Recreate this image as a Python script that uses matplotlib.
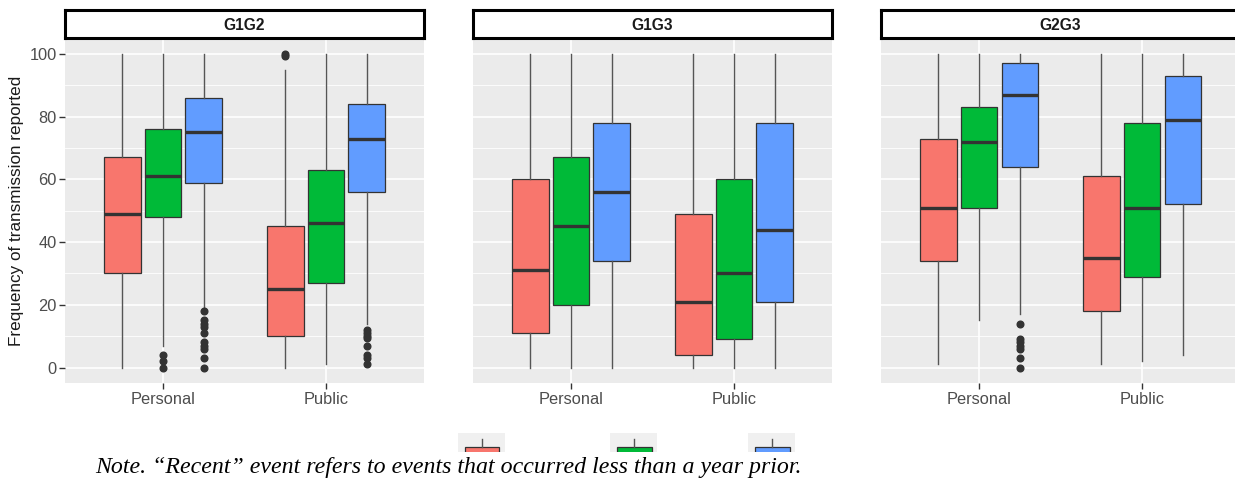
import matplotlib
matplotlib.use("Agg")
import matplotlib.pyplot as plt
from matplotlib.patches import Rectangle

# ---------------- data ----------------
panels = ["G1G2", "G1G3", "G2G3"]
contexts = ["Personal", "Public"]
fill_colors = ["#F8766D", "#00BA38", "#619CFF"]

# values indexed [panel][context][group]
q1 = [[[30, 48, 59], [10, 27, 56]],
      [[11, 20, 34], [4, 9, 21]],
      [[34, 51, 64], [18, 29, 52]]]
med = [[[49, 61, 75], [25, 46, 73]],
       [[31, 45, 56], [21, 30, 44]],
       [[51, 72, 87], [35, 51, 79]]]
q3 = [[[67, 76, 86], [45, 63, 84]],
      [[60, 67, 78], [49, 60, 78]],
      [[73, 83, 97], [61, 78, 93]]]
whis_lo = [[[0, 7, 19], [0, 1, 14]],
           [[0, 0, 0], [0, 0, 0]],
           [[1, 15, 17], [1, 2, 4]]]
whis_hi = [[[100, 100, 100], [95, 100, 100]],
           [[100, 100, 100], [100, 100, 100]],
           [[100, 100, 100], [100, 100, 100]]]
outliers = [[[[], [4, 2, 0], [18, 15, 14, 13, 11, 8, 7, 6, 3, 0]],
             [[100, 99.5], [], [12, 11, 10, 9.5, 7, 4, 3, 1]]],
            [[[], [], []], [[], [], []]],
            [[[], [], [14, 9, 8, 7, 6, 3, 0]], [[], [], []]]]

y_ticks = [0, 20, 40, 60, 80, 100]
y_label = "Frequency of transmission reported"
note = "Note. \u201cRecent\u201d event refers to events that occurred less than a year prior."

# ---------------- layout ----------------
W, H = 1235, 478
fig = plt.figure(figsize=(W / 100, H / 100), dpi=100)
fig.patch.set_facecolor("white")
sans = ["Liberation Sans", "DejaVu Sans"]

def fx(px):
    return px / W

def fy(py):
    return 1 - py / H

panel_left = [65.2, 473.2, 881.3]
panel_w = 358.6
panel_top, panel_bot = 38.3, 383.2
strip_top = 10.0

offsets = [-0.25, 0.0, 0.25]
box_w = 0.225

for p, name in enumerate(panels):
    L = panel_left[p]
    ax = fig.add_axes([fx(L), fy(panel_bot), panel_w / W, (panel_bot - panel_top) / H])
    ax.set_facecolor("#EBEBEB")
    for s in ax.spines.values():
        s.set_visible(False)
    ax.set_xlim(-0.6, 1.6)
    ax.set_ylim(-5, 105)
    # grid
    for v in range(10, 110, 20):
        ax.axhline(v, color="white", lw=0.6, zorder=0.5)
    for v in y_ticks:
        ax.axhline(v, color="white", lw=1.2, zorder=0.6)
    for c in range(len(contexts)):
        ax.axvline(c, color="white", lw=1.2, zorder=0.6)

    stats, pos, cols = [], [], []
    for c in range(len(contexts)):
        for g in range(3):
            stats.append(dict(med=med[p][c][g], q1=q1[p][c][g], q3=q3[p][c][g],
                              whislo=whis_lo[p][c][g], whishi=whis_hi[p][c][g],
                              fliers=outliers[p][c][g]))
            pos.append(c + offsets[g])
            cols.append(fill_colors[g])
    bp = ax.bxp(stats, positions=pos, widths=box_w, patch_artist=True,
                showcaps=False, manage_ticks=False,
                boxprops=dict(edgecolor="#333333", linewidth=0.9),
                whiskerprops=dict(color="#555555", linewidth=1.0),
                medianprops=dict(color="#333333", linewidth=2.4, solid_capstyle="butt"),
                flierprops=dict(marker="o", markerfacecolor="#333333",
                                markeredgecolor="#333333", markersize=4.8))
    for patch, col in zip(bp["boxes"], cols):
        patch.set_facecolor(col)
        patch.set_zorder(2)
    for m in bp["medians"]:
        m.set_zorder(3)

    ax.set_xticks(range(len(contexts)))
    ax.set_xticklabels(contexts, fontfamily=sans, fontsize=11.8, color="#4D4D4D")
    ax.tick_params(axis="x", length=4, width=1, color="#333333", pad=2)
    if p == 0:
        ax.set_yticks(y_ticks)
        ax.set_yticklabels([str(v) for v in y_ticks], fontfamily=sans,
                           fontsize=11.8, color="#4D4D4D")
        ax.tick_params(axis="y", length=4, width=1, color="#333333", pad=2)
        ax.set_ylabel(y_label, fontfamily=sans, fontsize=12.3, color="#1A1A1A", labelpad=4)
    else:
        ax.set_yticks([])

    # strip
    sax = fig.add_axes([fx(L), fy(panel_top - 0.5), panel_w / W, (panel_top - 0.5 - strip_top) / H])
    sax.set_facecolor("white")
    sax.set_xticks([])
    sax.set_yticks([])
    for s in sax.spines.values():
        s.set_linewidth(2.2)
        s.set_color("black")
    sax.text(0.5, 0.45, name, ha="center", va="center", fontfamily=sans,
             fontsize=11.2, fontweight="bold", color="#1A1A1A", transform=sax.transAxes)

# legend keys (partially hidden beneath the note)
key_left = [458, 610, 748]
key_w = 47
key_top, key_bot = 433, 452
for k, col in enumerate(fill_colors):
    kax = fig.add_axes([fx(key_left[k]), fy(key_bot), key_w / W, (key_bot - key_top) / H])
    kax.set_xlim(0, key_w)
    kax.set_ylim(key_bot - key_top, 0)
    kax.set_facecolor("#F0F0F0")
    for s in kax.spines.values():
        s.set_visible(False)
    kax.set_xticks([])
    kax.set_yticks([])
    kax.add_patch(Rectangle((6.5, 13.5), 35, 12, facecolor=col, edgecolor="#333333", lw=0.9))
    kax.plot([24, 24], [6, 13.5], color="#555555", lw=1.0)

fig.text(fx(95), fy(473), note, fontfamily=["Liberation Serif", "DejaVu Serif"],
         fontstyle="italic", fontsize=17.2, color="black", va="baseline", ha="left")

fig.savefig("out.png", dpi=100, facecolor="white")
